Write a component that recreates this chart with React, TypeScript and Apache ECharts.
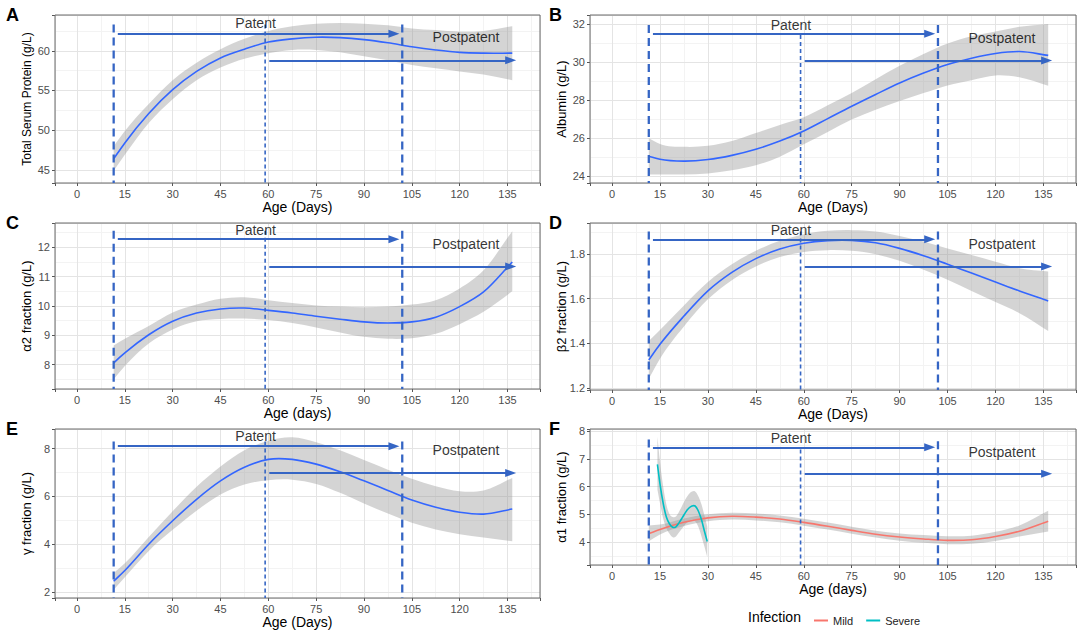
import React, { useEffect, useRef } from "react";
import * as echarts from "echarts";

// ---------- data ----------
const AGE = [11.5, 15, 22.5, 30, 37.5, 45, 52.5, 60, 67.5, 75, 82.5, 90, 97.5, 105, 112.5, 120, 127.5, 136.5];

const TSP_FIT = [46.4, 48.4, 52.1, 55.1, 57.4, 59.1, 60.2, 61.1, 61.5, 61.7, 61.65, 61.4, 61.0, 60.5, 60.1, 59.8, 59.7, 59.7];
const TSP_LOW = [44.9, 46.9, 50.9, 53.9, 56.3, 57.9, 59.0, 59.7, 60.1, 60.1, 59.8, 59.3, 58.8, 58.2, 57.8, 57.4, 57.0, 56.3];
const TSP_HIGH = [48.0, 49.9, 53.3, 56.3, 58.5, 60.2, 61.5, 62.5, 63.1, 63.4, 63.5, 63.4, 63.2, 62.8, 62.6, 62.4, 62.5, 63.1];

const ALB_FIT = [25.05, 24.9, 24.8, 24.88, 25.1, 25.42, 25.85, 26.38, 27.03, 27.68, 28.3, 28.9, 29.42, 29.87, 30.2, 30.45, 30.55, 30.35];
const ALB_LOW = [24.1, 24.1, 24.1, 24.15, 24.32, 24.58, 25.03, 25.68, 26.33, 26.98, 27.5, 27.95, 28.37, 28.77, 29.05, 29.3, 29.2, 28.75];
const ALB_HIGH = [26.0, 25.7, 25.55, 25.6, 25.85, 26.27, 26.7, 27.1, 27.73, 28.38, 29.1, 29.8, 30.42, 30.97, 31.35, 31.6, 31.85, 32.0];

const A2_FIT = [8.06, 8.4, 9.02, 9.48, 9.76, 9.9, 9.93, 9.85, 9.76, 9.65, 9.55, 9.46, 9.42, 9.46, 9.62, 9.98, 10.48, 11.5];
const A2_LOW = [7.5, 7.95, 8.72, 9.2, 9.48, 9.56, 9.57, 9.52, 9.42, 9.27, 9.1, 8.95, 8.88, 8.9, 9.05, 9.38, 9.8, 10.5];
const A2_HIGH = [8.65, 8.88, 9.32, 9.78, 10.05, 10.25, 10.3, 10.2, 10.1, 10.02, 9.98, 9.96, 9.98, 10.05, 10.2, 10.6, 11.22, 12.55];

const B2_FIT = [1.325, 1.395, 1.522, 1.635, 1.718, 1.78, 1.823, 1.849, 1.861, 1.862, 1.851, 1.826, 1.793, 1.755, 1.715, 1.675, 1.635, 1.59];
const B2_LOW = [1.24, 1.33, 1.475, 1.597, 1.683, 1.745, 1.787, 1.81, 1.818, 1.815, 1.8, 1.77, 1.73, 1.685, 1.635, 1.585, 1.535, 1.455];
const B2_HIGH = [1.41, 1.46, 1.57, 1.675, 1.755, 1.815, 1.86, 1.89, 1.905, 1.908, 1.902, 1.882, 1.857, 1.826, 1.796, 1.766, 1.737, 1.722];

const G_FIT = [2.45, 2.9, 4.0, 4.98, 5.88, 6.65, 7.22, 7.55, 7.55, 7.35, 7.03, 6.65, 6.25, 5.85, 5.55, 5.34, 5.26, 5.47];
const G_LOW = [2.1, 2.62, 3.72, 4.6, 5.4, 6.08, 6.5, 6.68, 6.7, 6.52, 6.15, 5.7, 5.28, 4.9, 4.62, 4.42, 4.28, 4.12];
const G_HIGH = [2.8, 3.2, 4.3, 5.38, 6.4, 7.25, 7.93, 8.33, 8.47, 8.27, 7.93, 7.52, 7.12, 6.74, 6.43, 6.22, 6.25, 6.77];

const MILD_FIT = [4.3, 4.45, 4.71, 4.87, 4.93, 4.9, 4.83, 4.71, 4.57, 4.42, 4.28, 4.18, 4.11, 4.06, 4.08, 4.2, 4.39, 4.75];
const MILD_LOW = [4.03, 4.27, 4.58, 4.75, 4.81, 4.78, 4.71, 4.59, 4.45, 4.3, 4.16, 4.05, 3.97, 3.92, 3.94, 4.04, 4.2, 4.38];
const MILD_HIGH = [4.6, 4.63, 4.85, 5.0, 5.06, 5.03, 4.96, 4.84, 4.7, 4.55, 4.41, 4.31, 4.25, 4.21, 4.23, 4.37, 4.6, 5.13];

const SEVERE_AGE = [14.2, 15, 16, 17, 18, 19, 20, 21, 22, 23, 24, 25, 26, 27, 28, 29, 29.8];
const SEVERE_FIT = [6.8, 6.1, 5.4, 4.9, 4.65, 4.53, 4.55, 4.7, 4.88, 5.07, 5.22, 5.3, 5.3, 5.12, 4.8, 4.35, 4.02];
const SEVERE_LOW = [5.9, 5.4, 4.85, 4.5, 4.3, 4.17, 4.2, 4.35, 4.5, 4.65, 4.75, 4.8, 4.75, 4.55, 4.2, 3.8, 3.45];
const SEVERE_HIGH = [7.8, 6.9, 6.0, 5.35, 5.0, 4.9, 4.92, 5.1, 5.33, 5.55, 5.72, 5.82, 5.82, 5.65, 5.35, 4.92, 4.55];

const X_TICK_LABELS = [0, 15, 30, 45, 60, 75, 90, 105, 120, 135];
const VLINE_X = [11.5, 59, 102]; // start patent, mid, end patent
const PATENT_ARROW_X = [12.8, 99.4];
const POST_ARROW_X = [60.3, 136];
const LABEL_X = [56, 122];

// ---------- layout / style ----------
const FONT = '"Liberation Sans", Arial, Helvetica, sans-serif';
const X_MIN = -6.9;
const X_MAX = 145.2;
const X_MAJOR = X_TICK_LABELS[1] - X_TICK_LABELS[0];
const FIT_BLUE = "#3366FF";
const ANNOT_BLUE = "#3565C4";
const BAND = "rgba(153,153,153,0.42)";

type Curve = { name: string; age: number[]; fit: number[]; low: number[]; high: number[]; color: string };
type Panel = {
  letter: string;
  rect: [number, number, number, number];
  yMin: number; yMax: number; yMajor: number; yMinor: number;
  yName: string; yNameSize: number; xName: string;
  curves: Curve[];
  arrowY: [number, number];
  labelY: [number, number];
  vTop: [number, number, number];
};

const PANELS: Panel[] = [
  { letter: "A", rect: [55, 15, 485, 168], yMin: 43.36, yMax: 64.5, yMajor: 5, yMinor: 2.5,
    yName: "Total Serum Protein (g/L)", yNameSize: 12, xName: "Age (Days)",
    curves: [{ name: "TSP", age: AGE, fit: TSP_FIT, low: TSP_LOW, high: TSP_HIGH, color: FIT_BLUE }],
    arrowY: [62.14, 58.8], labelY: [63.5, 61.68], vTop: [63.3, 63.3, 63.3] },
  { letter: "B", rect: [590, 15, 486, 168], yMin: 23.65, yMax: 32.47, yMajor: 2, yMinor: 1,
    yName: "Albumin (g/L)", yNameSize: 13, xName: "Age (Days)",
    curves: [{ name: "ALB", age: AGE, fit: ALB_FIT, low: ALB_LOW, high: ALB_HIGH, color: FIT_BLUE }],
    arrowY: [31.48, 30.08], labelY: [31.95, 31.25], vTop: [31.95, 31.42, 31.95] },
  { letter: "C", rect: [55, 223, 485, 166], yMin: 7.17, yMax: 12.83, yMajor: 1, yMinor: 0.5,
    yName: "α2 fraction (g/L)", yNameSize: 13, xName: "Age (days)",
    curves: [{ name: "A2", age: AGE, fit: A2_FIT, low: A2_LOW, high: A2_HIGH, color: FIT_BLUE }],
    arrowY: [12.28, 11.35], labelY: [12.6, 12.11], vTop: [12.57, 12.57, 12.57] },
  { letter: "D", rect: [590, 223, 486, 167], yMin: 1.19, yMax: 1.94, yMajor: 0.2, yMinor: 0.1,
    yName: "β2 fraction (g/L)", yNameSize: 13, xName: "Age (Days)",
    curves: [{ name: "B2", age: AGE, fit: B2_FIT, low: B2_LOW, high: B2_HIGH, color: FIT_BLUE }],
    arrowY: [1.867, 1.745], labelY: [1.91, 1.845], vTop: [1.902, 1.902, 1.902] },
  { letter: "E", rect: [55, 429, 485, 169], yMin: 1.75, yMax: 8.82, yMajor: 2, yMinor: 1,
    yName: "γ fraction (g/L)", yNameSize: 13, xName: "Age (Days)",
    curves: [{ name: "G", age: AGE, fit: G_FIT, low: G_LOW, high: G_HIGH, color: FIT_BLUE }],
    arrowY: [8.1, 6.98], labelY: [8.54, 7.93], vTop: [8.3, 8.3, 8.3] },
  { letter: "F", rect: [590, 429, 486, 136], yMin: 3.17, yMax: 8.08, yMajor: 1, yMinor: 0.5,
    yName: "α1 fraction (g/L)", yNameSize: 13, xName: "Age (days)",
    curves: [
      { name: "Mild", age: AGE, fit: MILD_FIT, low: MILD_LOW, high: MILD_HIGH, color: "#F8766D" },
      { name: "Severe", age: SEVERE_AGE, fit: SEVERE_FIT, low: SEVERE_LOW, high: SEVERE_HIGH, color: "#00BFC4" },
    ],
    arrowY: [7.42, 6.46], labelY: [7.76, 7.25], vTop: [7.7, 7.34, 7.64] },
];

const isMult = (v: number, step: number) => Math.abs(v / step - Math.round(v / step)) < 1e-6;

// Cubic Hermite (non-uniform 3-point slopes) in pixel space -> bezier segments
function hermiteSegs(p: number[][]): number[][][] {
  const n = p.length;
  const h: number[] = [], s: number[] = [];
  for (let i = 0; i < n - 1; i++) {
    h.push(p[i + 1][0] - p[i][0]);
    s.push((p[i + 1][1] - p[i][1]) / (p[i + 1][0] - p[i][0]));
  }
  const d: number[] = [];
  for (let i = 0; i < n; i++) {
    if (i === 0) d.push(s[0]);
    else if (i === n - 1) d.push(s[n - 2]);
    else d.push((s[i - 1] * h[i] + s[i] * h[i - 1]) / (h[i - 1] + h[i]));
  }
  const segs: number[][][] = [];
  for (let i = 0; i < n - 1; i++) {
    const c1 = [p[i][0] + h[i] / 3, p[i][1] + (d[i] * h[i]) / 3];
    const c2 = [p[i + 1][0] - h[i] / 3, p[i + 1][1] - (d[i + 1] * h[i]) / 3];
    segs.push([c1, c2, p[i + 1]]);
  }
  return segs;
}

const pt = (q: number[]) => `${q[0].toFixed(2)},${q[1].toFixed(2)}`;

function curvePath(p: number[][]): string {
  return `M${pt(p[0])}` + hermiteSegs(p).map((g) => ` C${pt(g[0])} ${pt(g[1])} ${pt(g[2])}`).join("");
}

function bandPath(up: number[][], lo: number[][]): string {
  let d = curvePath(up);
  const segs = hermiteSegs(lo);
  d += ` L${pt(lo[lo.length - 1])}`;
  for (let i = segs.length - 1; i >= 0; i--) {
    d += ` C${pt(segs[i][1])} ${pt(segs[i][0])} ${pt(lo[i])}`;
  }
  return d + " Z";
}

function buildOption() {
  const grid: any[] = [];
  const xAxis: any[] = [];
  const yAxis: any[] = [];
  const series: any[] = [];
  const graphic: any[] = [];
  const n = PANELS.length;

  PANELS.forEach((p, i) => {
    const [l, t, w, h] = p.rect;
    grid.push({ left: l, top: t, width: w, height: h, show: true, z: 3, borderColor: "#6a6a6a", borderWidth: 1,
      backgroundColor: "rgba(0,0,0,0)", containLabel: false, outerBoundsMode: "none" });

    xAxis[i] = {
      type: "value", gridIndex: i, min: X_MIN, max: X_MAX, minInterval: X_MAJOR, maxInterval: X_MAJOR, splitNumber: 5,
      z: 1, position: "bottom",
      name: p.xName, nameLocation: "middle", nameGap: 17, nameMoveOverlap: false,
      nameTextStyle: { fontSize: 14, color: "#000", fontFamily: FONT },
      axisLine: { show: false, onZero: false },
      axisTick: { show: true, length: 3, lineStyle: { color: "#555", width: 1 } },
      axisLabel: { show: true, margin: 5, fontSize: 11, color: "#4D4D4D", fontFamily: FONT, hideOverlap: false,
        formatter: (v: number) => (isMult(v, X_MAJOR) ? String(Math.round(v)) : "") },
      splitLine: { show: true, lineStyle: { color: "#E4E4E4", width: 1 } },
    };
    xAxis[n + i] = {
      type: "value", gridIndex: i, min: X_MIN, max: X_MAX, minInterval: X_MAJOR / 2, maxInterval: X_MAJOR / 2, splitNumber: 10,
      z: 0, position: "top",
      axisLine: { show: false, onZero: false }, axisTick: { show: false }, axisLabel: { show: false },
      splitLine: { show: true, lineStyle: { color: "#F3F3F3", width: 1 } },
    };
    const dec = p.yMajor < 1 ? 1 : 0;
    yAxis[i] = {
      type: "value", gridIndex: i, min: p.yMin, max: p.yMax, minInterval: p.yMajor, maxInterval: p.yMajor, splitNumber: 5,
      z: 1, position: "left",
      name: p.yName, nameLocation: "middle", nameGap: 22, nameMoveOverlap: false,
      nameTextStyle: { fontSize: p.yNameSize, color: "#000", fontFamily: FONT },
      axisLine: { show: false, onZero: false },
      axisTick: { show: true, length: 3, lineStyle: { color: "#555", width: 1 } },
      axisLabel: { show: true, margin: 5, fontSize: 11, color: "#4D4D4D", fontFamily: FONT, hideOverlap: false,
        formatter: (v: number) => (isMult(v, p.yMajor) ? v.toFixed(dec) : "") },
      splitLine: { show: true, lineStyle: { color: "#E4E4E4", width: 1 } },
    };
    yAxis[n + i] = {
      type: "value", gridIndex: i, min: p.yMin, max: p.yMax, minInterval: p.yMinor, maxInterval: p.yMinor, splitNumber: 10,
      z: 0, position: "right",
      axisLine: { show: false, onZero: false }, axisTick: { show: false }, axisLabel: { show: false },
      splitLine: { show: true, lineStyle: { color: "#F3F3F3", width: 1 } },
    };

    // confidence bands
    p.curves.forEach((c) => {
      series.push({
        type: "custom", name: c.name + " band", xAxisIndex: i, yAxisIndex: i, silent: true, z: 2,
        data: [[c.age[0], c.low[0]]],
        renderItem: (_params: any, api: any) => {
          const up = c.age.map((a, k) => api.coord([a, c.high[k]]));
          const lo = c.age.map((a, k) => api.coord([a, c.low[k]]));
          return { type: "path", shape: { pathData: bandPath(up, lo) }, style: { fill: BAND, stroke: null } };
        },
      });
    });

    // fitted curves (smooth path through the read points, via the axis scales)
    p.curves.forEach((c) => {
      series.push({
        type: "custom", name: c.name + " fit", xAxisIndex: i, yAxisIndex: i, silent: true, z: 3,
        data: [[c.age[0], c.fit[0]]],
        renderItem: (_params: any, api: any) => {
          const pts = c.age.map((a, k) => api.coord([a, c.fit[k]]));
          return { type: "path", shape: { pathData: curvePath(pts) },
            style: { fill: null, stroke: c.color, lineWidth: 1.6 } };
        },
      });
      if (p.curves.length > 1) {
        series.push({ type: "line", name: c.name, xAxisIndex: i, yAxisIndex: i, data: [], silent: true,
          symbol: "none", lineStyle: { color: c.color }, itemStyle: { color: c.color } });
      }
    });

    // vertical dashed lines (+ arrows on the first)
    VLINE_X.forEach((x, k) => {
      const mid = k === 1;
      const s: any = {
        type: "line", name: "vline", xAxisIndex: i, yAxisIndex: i, z: 4, silent: true,
        data: [[x, p.vTop[k]], [x, p.yMin]], symbol: "none", showSymbol: false,
        lineStyle: { color: ANNOT_BLUE, width: mid ? 1.6 : 2.3, type: mid ? [4, 3] : [8, 5] },
      };
      if (k === 0) {
        s.markLine = {
          silent: true, animation: false, symbol: ["none", "triangle"], symbolSize: [8, 11],
          label: { show: false },
          lineStyle: { color: ANNOT_BLUE, width: 2, type: "solid" },
          emphasis: { disabled: true },
          data: [
            [{ coord: [PATENT_ARROW_X[0], p.arrowY[0]] }, { coord: [PATENT_ARROW_X[1], p.arrowY[0]] }],
            [{ coord: [POST_ARROW_X[0], p.arrowY[1]] }, { coord: [POST_ARROW_X[1], p.arrowY[1]] }],
          ],
        };
      }
      series.push(s);
    });

    // text labels
    series.push({
      type: "scatter", name: "labels", xAxisIndex: i, yAxisIndex: i, z: 5, silent: true,
      symbolSize: 1, itemStyle: { color: "rgba(0,0,0,0)" },
      data: [
        { value: [LABEL_X[0], p.labelY[0]], name: "Patent" },
        { value: [LABEL_X[1], p.labelY[1]], name: "Postpatent" },
      ],
      label: { show: true, position: "inside", formatter: "{b}", fontSize: 14, color: "#000", fontFamily: FONT },
    });

    graphic.push({ type: "text", left: l < 300 ? 6 : 549, top: t - 9,
      style: { text: p.letter, font: `bold 18px ${FONT}`, fill: "#000" } });
  });

  graphic.push({ type: "text", left: 748, top: 610, style: { text: "Infection", font: `14px ${FONT}`, fill: "#000" } });

  return {
    animation: false,
    backgroundColor: "#fff",
    textStyle: { fontFamily: FONT },
    grid, xAxis, yAxis, series, graphic,
    legend: {
      data: ["Mild", "Severe"], left: 809, top: 610, orient: "horizontal",
      icon: "rect", itemWidth: 14, itemHeight: 2, itemGap: 13, selectedMode: false,
      textStyle: { fontSize: 11, color: "#222", fontFamily: FONT },
    },
  };
}

export default function App() {
  const ref = useRef<HTMLDivElement>(null);
  useEffect(() => {
    if (!ref.current) return;
    const chart = echarts.init(ref.current, null, { renderer: "svg" });
    chart.setOption(buildOption() as any);
    return () => chart.dispose();
  }, []);
  return <div ref={ref} style={{ position: "absolute", left: 0, top: 0, width: 1084, height: 639 }} />;
}
